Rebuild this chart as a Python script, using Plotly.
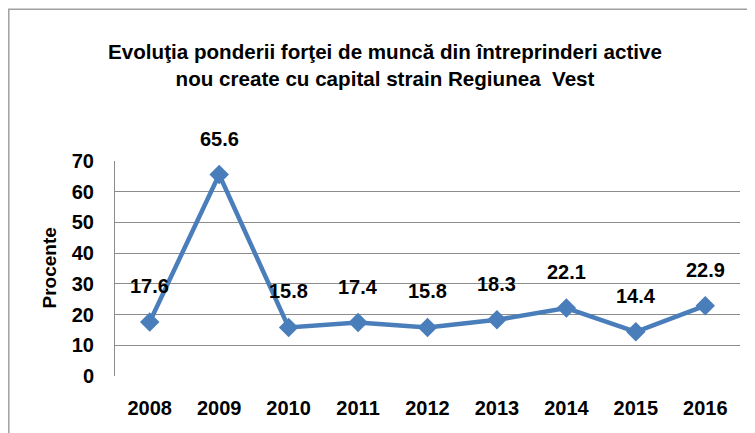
import plotly.graph_objects as go

years = ["2008", "2009", "2010", "2011", "2012", "2013", "2014", "2015", "2016"]
values = [17.6, 65.6, 15.8, 17.4, 15.8, 18.3, 22.1, 14.4, 22.9]
y_ticks = [0, 10, 20, 30, 40, 50, 60, 70]

FONT = "Liberation Sans, Arial, sans-serif"
# page has an 8px body margin, so the figure is sized to fit the 755x433 window
W, H = 747, 425
ML, MR, MT, MB = 107, 15, 153, 57
PW = W - ML - MR
PH = H - MT - MB

fig = go.Figure()
fig.add_trace(go.Scatter(
    x=years, y=values, mode="lines+markers",
    line=dict(color="#4A7EBB", width=4.5),
    marker=dict(symbol="diamond", size=15, color="#4A7EBB"),
    hoverinfo="skip", showlegend=False,
))

for i, v in enumerate(values):
    fig.add_annotation(x=i, y=v, xref="x", yref="y", text=f"{v:.1f}", showarrow=False,
                       yshift=36, font=dict(family=FONT, size=20, color="#000", weight="bold"))

fig.add_annotation(xref="paper", yref="paper", x=(41 - ML) / PW, y=0.5,
                   xanchor="center", yanchor="middle",
                   text="Procente", textangle=-90, showarrow=False,
                   font=dict(family=FONT, size=19, color="#000", weight="bold"))

# outer chart border
fig.add_shape(type="rect", xref="paper", yref="paper",
              x0=(0.8 - ML) / PW, x1=(W + 10 - ML) / PW,
              y0=-(MB + 10) / PH, y1=(PH + MT - 1.2) / PH,
              line=dict(color="#A0A0A0", width=1.5), layer="below")

fig.update_layout(
    width=W, height=H,
    margin=dict(l=ML, r=MR, t=MT, b=MB, autoexpand=False),
    paper_bgcolor="white", plot_bgcolor="white",
    title=dict(text="Evoluţia ponderii forţei de muncă din întreprinderi active<br>nou create cu capital strain Regiunea  Vest",
               x=377 / W, xanchor="center", y=1 - 51 / H, yanchor="middle",
               font=dict(family=FONT, size=20.6, color="#000", weight="bold")),
    xaxis=dict(type="category", range=[-0.5, 8.5], showgrid=False, showline=False,
               ticks="", tickfont=dict(family=FONT, size=20, color="#000", weight="bold"),
               ticklabelstandoff=18, automargin=False, fixedrange=True),
    yaxis=dict(range=[0, 70], tickvals=y_ticks, showgrid=True, gridcolor="#8C8C8C",
               gridwidth=1, showline=True, linecolor="#8C8C8C", linewidth=1,
               zeroline=False, ticks="", tickfont=dict(family=FONT, size=20, color="#000", weight="bold"),
               ticklabelstandoff=16, automargin=False, fixedrange=True),
)

fig.write_html("out.html")
